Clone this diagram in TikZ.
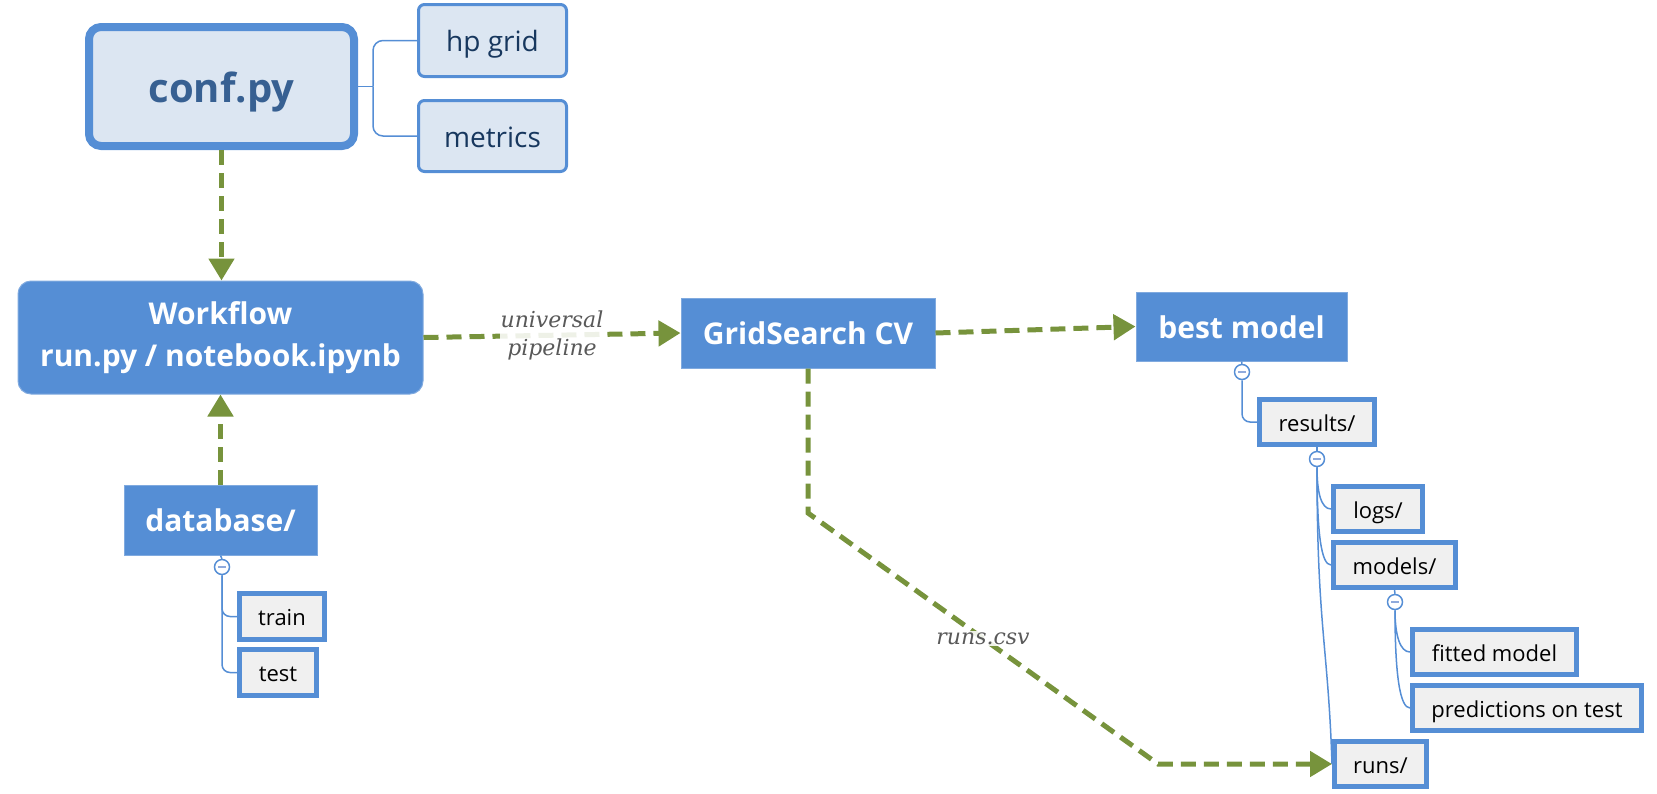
\documentclass[tikz,border=0pt]{standalone}
\usepackage{fontspec}
\setmainfont{Open Sans}
\newfontfamily\labelfont{DejaVu Serif}
\usetikzlibrary{arrows.meta}
\definecolor{mblue}{HTML}{558ED5}
\definecolor{mgreen}{HTML}{77933C}
\definecolor{conffill}{HTML}{DCE6F2}
\definecolor{leaffill}{HTML}{F0F0F0}
\definecolor{conftext}{HTML}{376092}
\definecolor{subtext}{HTML}{17375E}
\definecolor{labtext}{HTML}{595959}
\definecolor{minuscol}{HTML}{8FAADC}
\begin{document}
\begin{tikzpicture}[x=1pt,y=-1pt,
 oneline/.style={text height=#1, text depth=0pt},
 solidbox/.style={fill=mblue, draw=mblue!75!white, line width=1pt, text=white,
   font=\bfseries\fontsize{30}{36}\selectfont, inner sep=0pt},
 leaf/.style={draw=mblue, line width=5pt, fill=leaffill, inner sep=0pt,
   font=\fontsize{22}{26}\selectfont, text=black, oneline=18pt},
 subbox/.style={draw=mblue, line width=3pt, fill=conffill, rounded corners=6pt,
   inner sep=0pt, text=subtext, font=\fontsize{28}{32}\selectfont, oneline=22pt},
 flow/.style={draw=mgreen, line width=5pt, dash pattern=on 15pt off 8pt,
   -{Triangle[length=22pt,width=25pt]}},
 tree/.style={draw=mblue, line width=1.5pt},
 toggle/.style={circle, draw=mblue, line width=1.5pt, fill=white, minimum size=15pt,
   inner sep=0pt, path picture={\draw[minuscol, line width=2pt]
   ([xshift=-4pt]path picture bounding box.center) -- ([xshift=4pt]path picture bounding box.center);}},
 flowlabel/.style={fill=white, fill opacity=0.88, text opacity=1, text=labtext,
   font=\labelfont\itshape\fontsize{22}{28}\selectfont, align=center, inner sep=1pt}
]
\useasboundingbox (0,0) rectangle (1657,793);

% main nodes
\node[draw=mblue, line width=8pt, fill=conffill, rounded corners=12pt,
  minimum width=265pt, minimum height=119pt, inner sep=0pt, text=conftext,
  font=\bfseries\fontsize{40}{48}\selectfont, oneline=31pt] (conf) at (221.5,86.5) {conf.py};
\node[subbox, minimum width=148pt, minimum height=72pt] (hp) at (492.5,40.5) {hp grid};
\node[subbox, minimum width=148pt, minimum height=71pt] (metrics) at (492.5,136) {metrics};
\node[solidbox, rounded corners=13pt, minimum width=405pt, minimum height=113pt,
  align=center, font=\bfseries\fontsize{30}{42}\selectfont] (wf) at (220.5,337.5)
  {Workflow\\run.py / notebook.ipynb};
\node[solidbox, oneline=23.4pt, minimum width=254pt, minimum height=70pt] (gs) at (808,333) {GridSearch CV};
\node[solidbox, oneline=23.4pt, minimum width=211pt, minimum height=69pt] (best) at (1241.5,326.5) {best model};
\node[solidbox, oneline=23.4pt, minimum width=193pt, minimum height=70pt] (db) at (220.5,520) {database/};

% leaves
\node[leaf, minimum width=85pt, minimum height=46pt] (train) at (282,616.5) {train};
\node[leaf, minimum width=77pt, minimum height=46pt] (test) at (278,672.5) {test};
\node[leaf, minimum width=115pt, minimum height=45pt] (results) at (1317,422) {results/};
\node[leaf, minimum width=89pt, minimum height=45pt] (logs) at (1378,509) {logs/};
\node[leaf, minimum width=122pt, minimum height=45pt] (models) at (1394.5,565) {models/};
\node[leaf, minimum width=164pt, minimum height=45pt] (fitted) at (1494.5,652) {fitted model};
\node[leaf, minimum width=229pt, minimum height=45pt] (pred) at (1527,708) {predictions on test};
\node[leaf, minimum width=92pt, minimum height=45pt] (runs) at (1380.5,764) {runs/};

% toggles
\node[toggle] (t1) at (1242,372) {};
\node[toggle] (t2) at (1317,459) {};
\node[toggle] (t3) at (1395,602) {};
\node[toggle] (t4) at (222,567) {};

% tree connectors
\coordinate (cj) at (373,86.5);
\draw[tree] (conf.east) -- (cj);
\draw[tree, rounded corners=10pt] (cj) |- (hp.west);
\draw[tree, rounded corners=10pt] (cj) |- (metrics.west);

\draw[tree] (db.south) -- (t4.north);
\draw[tree, rounded corners=8pt] (t4.south) |- (train.west);
\draw[tree, rounded corners=8pt] (t4.south) |- (test.west);

\draw[tree] (best.south) -- (t1.north);
\draw[tree, rounded corners=8pt] (t1.south) |- (results.west);

\draw[tree] (results.south) -- (t2.north);
\draw[tree] (t2.south) .. controls +(0,25) and +(-10,0) .. (logs.west);
\draw[tree] (t2.south) .. controls +(0,65) and +(-10,0) .. (models.west);
\draw[tree] (t2.south) .. controls +(0,160) and +(-4,-120) .. (runs.west);

\draw[tree] (models.south) -- (t3.north);
\draw[tree] (t3.south) .. controls +(0,25) and +(-10,0) .. (fitted.west);
\draw[tree] (t3.south) .. controls +(0,65) and +(-10,0) .. (pred.west);

% flow arrows
\coordinate (k1) at (808,513);
\coordinate (k2) at (1158,764);
\draw[flow] (conf.south) -- (conf.south |- wf.north);
\draw[flow] (db.north) -- (db.north |- wf.south);
\draw[flow] (wf.east) -- node[flowlabel] (lab1) {universal\\pipeline} (gs.west);
\draw[flow] (gs.east) -- (best.west);
\draw[flow] (gs.south) -- (k1) -- node[flowlabel] (lab2) {runs.csv} (k2) -- (runs.west);
\end{tikzpicture}
\end{document}
